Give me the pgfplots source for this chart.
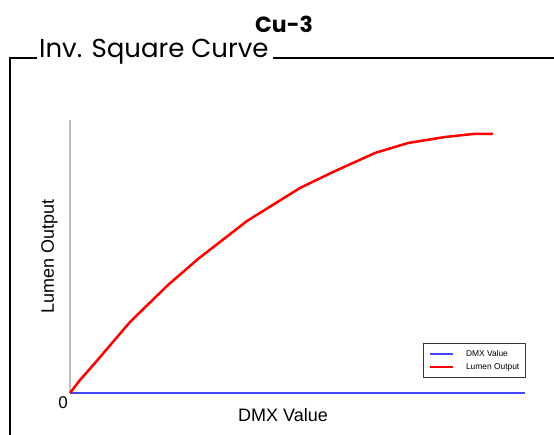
\documentclass[border=0pt]{standalone}
\usepackage{fontspec}
\setmainfont{Liberation Sans}
\newfontfamily\gothic{Poppins}
\usepackage{pgfplots}
\pgfplotsset{compat=1.18}
\definecolor{dmxblue}{RGB}{70,70,255}
\definecolor{lumred}{RGB}{255,0,0}
\definecolor{axgray}{RGB}{190,190,190}
\pgfplotstableread{
x y
0 0
10 13
25 30
60 71
98 108
128 134
177 172
230 205
263 221
305 240
338 250
375 256
403 259
423 259
}\lumen
\pgfplotstableread{
x y
0 0
455 0
}\dmx
\begin{document}
\begin{tikzpicture}[x=1pt,y=1pt]
\path[use as bounding box] (0,0) rectangle (554,434);
\node[font=\gothic\bfseries\fontsize{22}{24}\selectfont, anchor=base, inner sep=0] at (284,401) {Cu-3};
\node[font=\gothic\fontsize{26}{30}\selectfont, anchor=base west, inner sep=0] at (39,376.5) {Inv. Square Curve};
\draw[line width=2.5pt] (554,376) -- (273,376);
\draw[line width=2.5pt] (37,376) -- (10,376) -- (10,-2);
\begin{axis}[
  at={(70pt,41pt)}, anchor=south west,
  scale only axis, width=455pt, height=273pt,
  xmin=0, xmax=455, ymin=0, ymax=273,
  axis lines*=left,
  axis line style={-},
  x axis line style={draw=none},
  y axis line style={draw=axgray, line width=1.8pt},
  xtick=\empty, ytick=\empty,
  clip=false,
  xlabel={DMX Value},
  ylabel={Lumen Output},
  label style={font=\fontsize{18}{20}\selectfont},
  x label style={at={(axis description cs:0.468,0)}, anchor=north, yshift=-12pt},
  y label style={at={(axis description cs:-0.045,0.5)}, anchor=center},
]
\addplot[dmxblue, line width=1.5pt] table {\dmx};
\addplot[lumred, line width=2.5pt] table {\lumen};
\node[font=\fontsize{17}{20}\selectfont, anchor=north east, inner sep=0] at (axis cs:-2,-3) {0};
% legend
\draw[black!80, line width=0.9pt] (axis description cs:0.776,0.0586) rectangle (axis description cs:1.0,0.183);
\draw[dmxblue, line width=1.2pt] (axis description cs:0.791,0.143) -- (axis description cs:0.842,0.143);
\draw[lumred, line width=1.2pt] (axis description cs:0.791,0.095) -- (axis description cs:0.842,0.095);
\node[font=\fontsize{8.4}{10}\selectfont, anchor=west, inner sep=0] at (axis description cs:0.870,0.143) {DMX Value};
\node[font=\fontsize{8.4}{10}\selectfont, anchor=west, inner sep=0] at (axis description cs:0.870,0.095) {Lumen Output};
\end{axis}
\end{tikzpicture}
\end{document}
